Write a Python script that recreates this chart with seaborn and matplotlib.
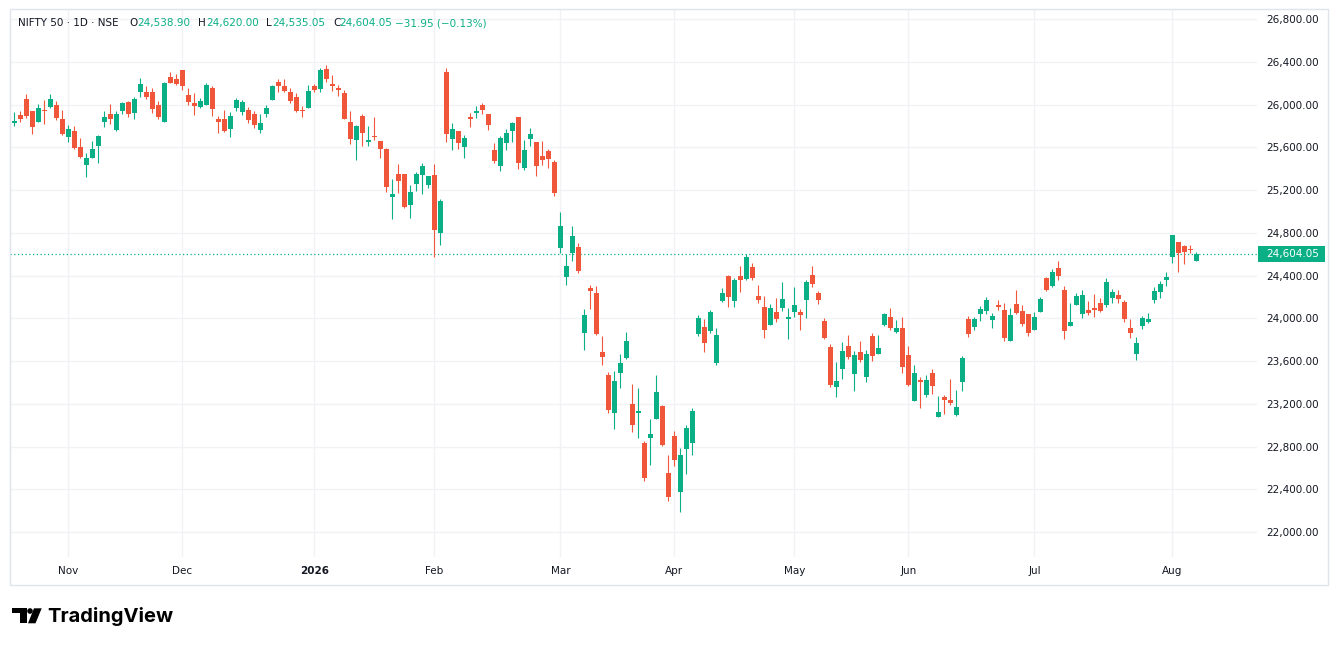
import numpy as np
import pandas as pd
import matplotlib
matplotlib.use("Agg")
import matplotlib.pyplot as plt
import matplotlib.transforms as mtransforms
from matplotlib.patches import Rectangle, Ellipse, Polygon
import seaborn as sns

# NIFTY 50 daily candles (one row per trading day)
opens = [25826, 25904, 26056, 25935, 25835, 25944, 25978, 25991, 25869, 25695,
         25751, 25599, 25434, 25499, 25611, 25835, 25907, 25761, 25944, 26028,
         25919, 26121, 26115, 26121, 26000, 25835, 26261, 26243, 26327, 26093,
         26013, 25975, 25994, 26159, 25869, 25869, 25770, 25963, 25929, 25953,
         25907, 25761, 25907, 26047, 26208, 26177, 26121, 26069, 25947, 25966,
         26177, 26149, 26336, 26196, 26149, 26112, 25841, 25664, 25897, 25649,
         25705, 25655, 25580, 25136, 25347, 25347, 25061, 25257, 25341, 25247,
         25338, 24800, 26308, 25677, 25757, 25602, 25888, 25919, 26000, 25907,
         25571, 25425, 25639, 25751, 25879, 25406, 25674, 25646, 25515, 25562,
         25459, 24657, 24386, 24610, 24663, 23863, 24283, 24233, 23682, 23468,
         23116, 23489, 23629, 23197, 23116, 22833, 22876, 23060, 23178, 22552,
         22898, 22378, 22780, 22836, 23852, 23918, 23883, 23584, 24163, 24394,
         24163, 24394, 24369, 24478, 24207, 24104, 23939, 24058, 24098, 23995,
         24061, 24058, 24173, 24403, 24235, 23974, 23731, 23360, 23528, 23740,
         23482, 23684, 23454, 23834, 23665, 23936, 24011, 23871, 23908, 23656,
         23230, 23426, 23282, 23488, 23080, 23264, 23236, 23099, 23407, 23992,
         23921, 24042, 24070, 23986, 24114, 24076, 23790, 24132, 24067, 24039,
         23893, 24061, 24375, 24303, 24468, 24263, 23930, 24123, 24042, 24076,
         24086, 24142, 24123, 24187, 24215, 24150, 23907, 23668, 23929, 23966,
         24171, 24243, 24358, 24576, 24710, 24672, 24644, 24538.90]
highs = [25929, 25938, 26103, 25944, 26009, 26047, 26103, 26034, 25953, 25804,
         25795, 25683, 25549, 25655, 25717, 25935, 26009, 25938, 26025, 26031,
         26075, 26252, 26177, 26159, 26037, 26215, 26305, 26283, 26327, 26159,
         26109, 26062, 26202, 26177, 25891, 25953, 25929, 26059, 26047, 25978,
         25938, 25907, 25997, 26187, 26240, 26243, 26153, 26112, 25985, 26187,
         26193, 26345, 26373, 26280, 26187, 26140, 25944, 25804, 25907, 25795,
         25879, 25655, 25590, 25300, 25440, 25350, 25251, 25372, 25456, 25331,
         25440, 25114, 26345, 25823, 25757, 25711, 25922, 25988, 26012, 25907,
         25636, 25705, 25767, 25835, 25888, 25664, 25776, 25646, 25655, 25580,
         25478, 24990, 24604, 24859, 24700, 24084, 24308, 24299, 23832, 23496,
         23505, 23664, 23869, 23384, 23346, 22851, 23057, 23468, 23184, 22721,
         22945, 22786, 23001, 23156, 24029, 23989, 24076, 23908, 24282, 24403,
         24375, 24487, 24602, 24518, 24310, 24207, 24132, 24188, 24338, 24095,
         24291, 24086, 24356, 24487, 24257, 24001, 23762, 23594, 23777, 23843,
         23693, 23787, 23703, 23861, 23843, 24048, 24095, 23983, 24011, 23740,
         23563, 23454, 23469, 23525, 23273, 23282, 23432, 23329, 23647, 24020,
         24011, 24114, 24198, 24048, 24170, 24142, 24095, 24263, 24123, 24039,
         24058, 24198, 24384, 24459, 24534, 24300, 24142, 24235, 24263, 24160,
         24226, 24188, 24375, 24271, 24262, 24168, 23991, 23826, 24019, 24047,
         24290, 24346, 24430, 24775, 24710, 24682, 24682, 24620.00]
lows = [25798, 25835, 25873, 25723, 25835, 25817, 25966, 25854, 25714, 25649,
        25580, 25499, 25322, 25499, 25453, 25789, 25817, 25751, 25907, 25882,
        25863, 26069, 26056, 25922, 25860, 25835, 26205, 26184, 26134, 25997,
        25901, 25969, 25994, 25897, 25733, 25742, 25692, 25944, 25904, 25829,
        25776, 25730, 25879, 26047, 26121, 26121, 26013, 25929, 25885, 25966,
        26115, 26121, 26215, 26131, 26078, 25866, 25630, 25481, 25611, 25611,
        25664, 25499, 25182, 24930, 25173, 25033, 24940, 25191, 25164, 25223,
        24576, 24688, 25649, 25574, 25583, 25499, 25789, 25873, 25907, 25761,
        25453, 25378, 25574, 25649, 25397, 25387, 25611, 25331, 25431, 25406,
        25145, 24613, 24311, 24535, 24426, 23704, 24084, 23844, 23564, 23116,
        22966, 23349, 23617, 22938, 22878, 22481, 22630, 23060, 22805, 22294,
        22621, 22191, 22546, 22724, 23836, 23687, 23865, 23566, 24154, 24107,
        24107, 24247, 24360, 24360, 24142, 23818, 23939, 23967, 24070, 23809,
        24014, 23893, 24005, 24294, 24135, 23809, 23360, 23267, 23432, 23619,
        23323, 23594, 23407, 23603, 23665, 23927, 23889, 23865, 23491, 23370,
        23230, 23161, 23261, 23292, 23080, 23105, 23192, 23089, 23323, 23827,
        23893, 23977, 24042, 23911, 24079, 23790, 23790, 24042, 23930, 23837,
        23893, 24061, 24257, 24294, 24360, 23809, 23930, 24123, 24005, 24033,
        24014, 24061, 24107, 24140, 24140, 23966, 23817, 23612, 23901, 23957,
        24144, 24187, 24302, 24520, 24433, 24507, 24607, 24535.05]
closes = [25845, 25863, 25891, 25789, 25972, 25935, 26056, 25873, 25723, 25767,
          25590, 25509, 25496, 25580, 25702, 25879, 25869, 25916, 26019, 25910,
          26056, 26196, 26069, 25957, 25882, 26205, 26205, 26196, 26171, 26028,
          25985, 26037, 26187, 25956, 25835, 25748, 25897, 26044, 26028, 25851,
          25813, 25823, 25972, 26177, 26171, 26131, 26037, 25935, 25935, 26131,
          26140, 26327, 26243, 26171, 26140, 25869, 25674, 25795, 25730, 25667,
          25692, 25580, 25229, 25163, 25285, 25042, 25179, 25347, 25422, 25328,
          24828, 25095, 25723, 25773, 25639, 25689, 25860, 25935, 25947, 25807,
          25471, 25683, 25730, 25823, 25453, 25571, 25720, 25425, 25481, 25490,
          25173, 24868, 24486, 24766, 24442, 24028, 24255, 23854, 23639, 23144,
          23412, 23580, 23785, 23004, 23125, 22509, 22917, 23309, 22817, 22331,
          22677, 22721, 22973, 23131, 24001, 23771, 24058, 23843, 24232, 24195,
          24356, 24356, 24577, 24378, 24173, 23893, 24095, 23995, 24179, 24001,
          24123, 24033, 24338, 24322, 24173, 23818, 23379, 23416, 23693, 23640,
          23656, 23612, 23665, 23650, 23721, 24039, 23908, 23908, 23547, 23379,
          23488, 23407, 23426, 23370, 23124, 23239, 23211, 23170, 23628, 23855,
          23992, 24086, 24170, 24020, 24107, 23818, 24030, 24051, 23946, 23865,
          24011, 24179, 24266, 24431, 24397, 23883, 23964, 24207, 24216, 24051,
          24079, 24070, 24338, 24243, 24178, 23994, 23864, 23767, 24000, 23991,
          24252, 24318, 24383, 24775, 24613, 24623, 24636, 24604.05]

# first trading day of each month (row index) and its axis label
month_starts = [9, 28, 50, 70, 91, 110, 130, 149, 170, 193]
month_labels = ["Nov", "Dec", "2026", "Feb", "Mar", "Apr", "May", "Jun", "Jul", "Aug"]
price_ticks = list(range(22000, 26801, 400))

df = pd.DataFrame({"open": opens, "high": highs, "low": lows, "close": closes})
df["idx"] = np.arange(len(df))
df["up"] = df["close"] >= df["open"]

UP = "#0aaf86"
DOWN = "#f0573a"
INK = "#131722"
GRID = "#f0f2f5"

sns.set_style("white")
plt.rcParams["font.family"] = ["DejaVu Sans"]

W, H = 1339, 646
def fx(px):
    return px / W
def fy(py):
    return 1 - py / H

fig = plt.figure(figsize=(W / 100, H / 100), dpi=100)
ax = fig.add_axes([fx(10), fy(557), 1247 / W, 548 / H])

colors = np.where(df["up"], UP, DOWN)
ax.vlines(df["idx"], df["low"], df["high"], colors=colors, linewidth=0.8, zorder=3)
body_bottom = df[["open", "close"]].min(axis=1)
body_h = (df["close"] - df["open"]).abs().clip(lower=14)
ax.bar(df["idx"], body_h, bottom=body_bottom, width=0.78, color=colors,
       linewidth=0, zorder=4)

last = df["close"].iloc[-1]
ax.axhline(last, color=UP, lw=0.9, linestyle=(0, (1, 2)), zorder=2)

ax.set_xlim(-0.72, 207.1)
ax.set_ylim(21766, 26894)
ax.set_yticks(price_ticks)
ax.set_yticklabels([f"{v:,.2f}" for v in price_ticks])
ax.set_xticks(month_starts)
ax.set_xticklabels(month_labels)
ax.yaxis.tick_right()
ax.tick_params(axis="y", length=0, pad=6.5, labelsize=7.5, labelcolor=INK)
ax.tick_params(axis="x", length=0, pad=6.5, labelsize=7.5, labelcolor=INK)
for lab in ax.get_xticklabels():
    if lab.get_text() == "2026":
        lab.set_fontweight("bold")
ax.grid(True, color=GRID, lw=1, zorder=0)
ax.set_axisbelow(True)
for s in ax.spines.values():
    s.set_visible(False)

# last price tag on the price scale
trans = mtransforms.blended_transform_factory(ax.transAxes, ax.transData)
ax.add_patch(Rectangle((1.0008, last - 75), 0.0537, 150, transform=trans,
                       facecolor=UP, edgecolor="none", clip_on=False, zorder=5))
ax.text(1.0072, last, f"{last:,.2f}", transform=trans, color="white",
        fontsize=7.5, va="center", ha="left", zorder=6)

# outer chart frame
fig.add_artist(Rectangle((fx(10), fy(585)), 1318 / W, 576 / H,
                         transform=fig.transFigure, fill=False,
                         edgecolor="#e0e3eb", lw=1))

# legend line at the top
hy = fy(23)
fig.text(fx(18), hy, "NIFTY 50 · 1D · NSE", color=INK, fontsize=7.5, va="center")
parts = [(129, "O", INK), (137, f"{opens[-1]:,.2f}", UP),
         (198, "H", INK), (206, f"{highs[-1]:,.2f}", UP),
         (266, "L", INK), (272, f"{lows[-1]:,.2f}", UP),
         (333, "C", INK), (339.5, f"{closes[-1]:,.2f}", UP),
         (395, "\u221231.95 (\u22120.13%)", UP)]
for x, s, c in parts:
    fig.text(fx(x), hy, s, color=c, fontsize=7.5, va="center")

# TradingView mark and name
ft = fig.transFigure
fig.add_artist(Rectangle((fx(11.7), fy(613.3)), 15 / W, 5 / H, transform=ft,
                         facecolor="black", edgecolor="none"))
fig.add_artist(Rectangle((fx(20), fy(623.3)), 6.7 / W, 15 / H, transform=ft,
                         facecolor="black", edgecolor="none"))
fig.add_artist(Ellipse((fx(30), fy(611)), 5.6 / W, 5.6 / H, transform=ft,
                       facecolor="black", edgecolor="none"))
fig.add_artist(Polygon([(fx(34), fy(608.3)), (fx(41.7), fy(608.3)),
                        (fx(35.5), fy(623.3)), (fx(28), fy(623.3))],
                       closed=True, transform=ft, facecolor="black", edgecolor="none"))
fig.text(fx(47), fy(616), "TradingView", fontsize=14.5, fontweight="bold",
         family=["Inter", "DejaVu Sans"], color="black", va="center", ha="left")

fig.savefig("out.png", dpi=100, facecolor="white")
